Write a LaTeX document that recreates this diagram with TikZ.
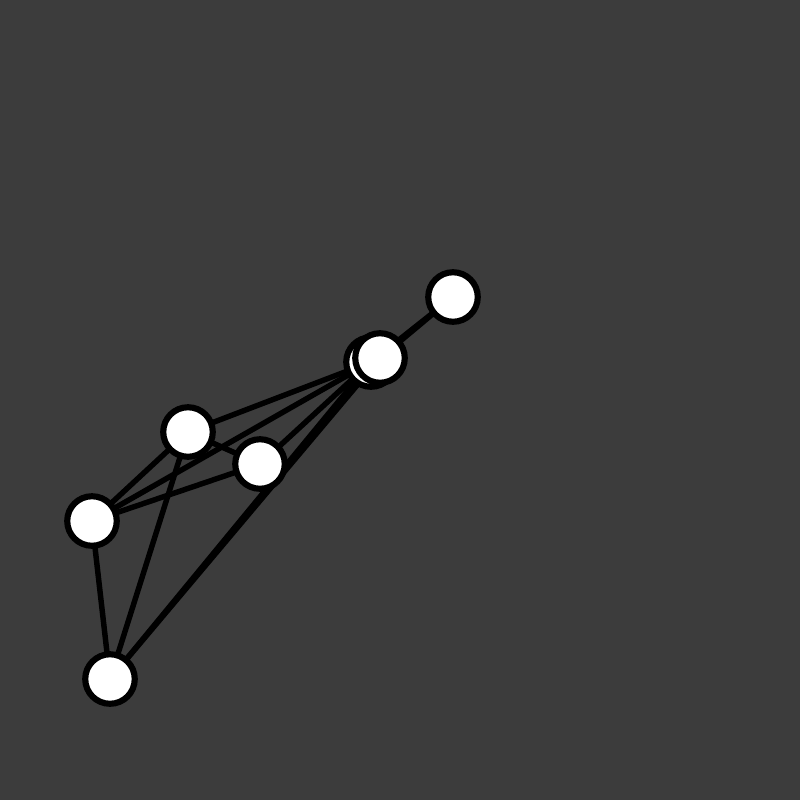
\documentclass[tikz,border=0pt]{standalone}
\begin{document}
\begin{tikzpicture}[x=0.01cm,y=-0.01cm,
  vert/.style={circle,draw=black,fill=white,line width=1.75pt,minimum size=0.495cm,inner sep=0pt},
  edge/.style={draw=black,line width=1.55pt}]
\fill[fill={rgb,255:red,60;green,60;blue,60}] (0,0) rectangle (800,800);
\useasboundingbox (0,0) rectangle (800,800);
\coordinate (pA) at (453,297);
\coordinate (pB) at (371,362);
\coordinate (pC) at (380,358);
\coordinate (pD) at (188,432);
\coordinate (pE) at (260,464);
\coordinate (pF) at (92,521);
\coordinate (pG) at (110,679);
\path[edge] (pA) -- (pB);
\path[edge] (pA) -- (pC);
\path[edge] (pD) -- (pB);
\path[edge] (pD) -- (pE);
\path[edge] (pD) -- (pF);
\path[edge] (pD) -- (pG);
\path[edge] (pF) -- (pB);
\path[edge] (pF) -- (pE);
\path[edge] (pE) -- (pB);
\path[edge] (pG) -- (pB);
\path[edge] (pG) -- (pC);
\path[edge] (pF) -- (pG);
\node[vert] (A) at (pA) {};
\node[vert] (B) at (pB) {};
\node[vert] (C) at (pC) {};
\node[vert] (D) at (pD) {};
\node[vert] (E) at (pE) {};
\node[vert] (F) at (pF) {};
\node[vert] (G) at (pG) {};
\end{tikzpicture}
\end{document}
